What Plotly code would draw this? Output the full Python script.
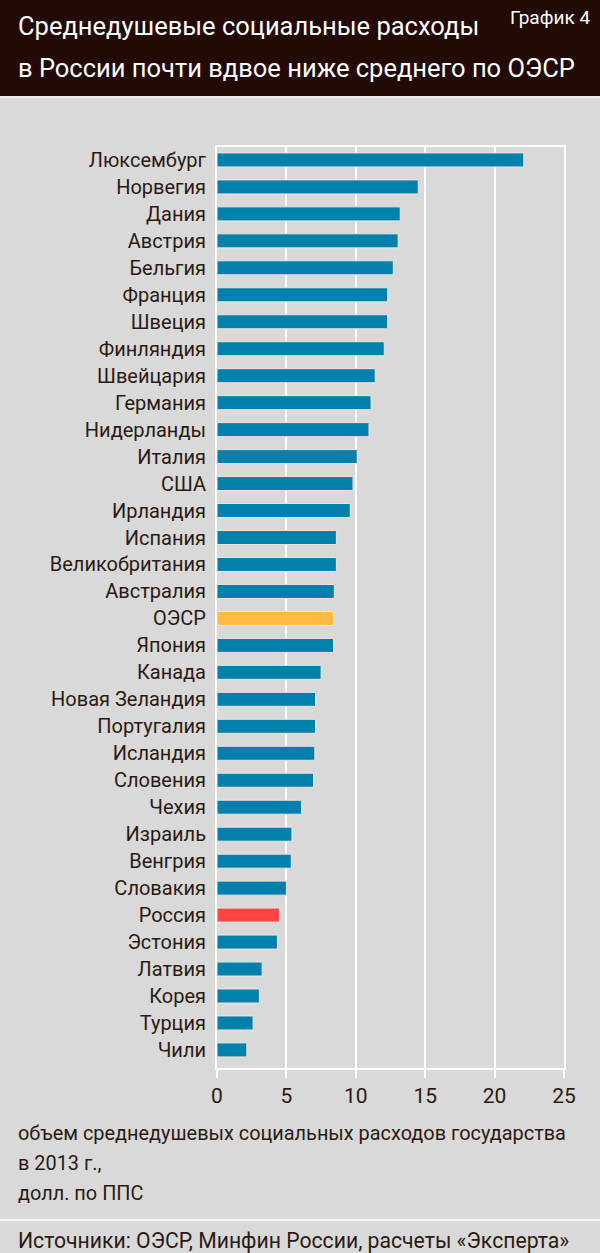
import plotly.graph_objects as go

countries = ["Люксембург", "Норвегия", "Дания", "Австрия", "Бельгия", "Франция", "Швеция",
             "Финляндия", "Швейцария", "Германия", "Нидерланды", "Италия", "США", "Ирландия",
             "Испания", "Великобритания", "Австралия", "ОЭСР", "Япония", "Канада",
             "Новая Зеландия", "Португалия", "Исландия", "Словения", "Чехия", "Израиль",
             "Венгрия", "Словакия", "Россия", "Эстония", "Латвия", "Корея", "Турция", "Чили"]
values = [22.1, 14.5, 13.2, 13.05, 12.7, 12.3, 12.3,
          12.05, 11.4, 11.1, 10.95, 10.1, 9.8, 9.6,
          8.6, 8.6, 8.45, 8.4, 8.4, 7.5,
          7.1, 7.1, 7.05, 6.95, 6.1, 5.4,
          5.35, 5.0, 4.5, 4.35, 3.25, 3.05, 2.6, 2.15]
x_ticks = [0, 5, 10, 15, 20, 25]

title_lines = ["Среднедушевые социальные расходы", "в России почти вдвое ниже среднего по ОЭСР"]
chart_no = "График 4"
unit_lines = ["объем среднедушевых социальных расходов государства", "в 2013 г.,", "долл. по ППС"]
source = "Источники: ОЭСР, Минфин России, расчеты «Эксперта»"

BLUE = "#0080aa"
ORANGE = "#ffbb40"
RED = "#ff4444"
colors = [ORANGE if c == "ОЭСР" else RED if c == "Россия" else BLUE for c in countries]

W, H = 600, 1253
L, R, T, B = 217, 564, 147, 1068
FONT = "Roboto, Liberation Sans, sans-serif"
TXT = "#2b1a12"

def px(x):
    return (x - L) / (R - L)

def py(y):
    return (B - y) / (B - T)

fig = go.Figure(go.Bar(
    x=values[::-1], y=countries[::-1], orientation="h",
    marker=dict(color=colors[::-1], line=dict(color="#f3e2da", width=1)),
    width=0.52, hoverinfo="x+y",
))

shapes = [
    dict(type="rect", xref="paper", yref="paper", x0=px(0), x1=px(W), y0=py(96), y1=py(0),
         fillcolor="#230a05", line=dict(width=0), layer="below"),
    dict(type="line", xref="paper", yref="paper", x0=px(0), x1=px(W), y0=py(97), y1=py(97),
         line=dict(color="#f2f2f2", width=1.5)),
    dict(type="line", xref="paper", yref="paper", x0=px(0), x1=px(W), y0=py(1220), y1=py(1220),
         line=dict(color="#f5f5f5", width=2)),
]

annotations = []
for text, yy in zip(title_lines, [26, 68]):
    annotations.append(dict(text=text, xref="paper", yref="paper", x=px(16), y=py(yy),
                            xanchor="left", yanchor="middle", showarrow=False,
                            font=dict(family=FONT, size=25.5, color="#ffffff")))
annotations.append(dict(text=chart_no, xref="paper", yref="paper", x=px(592), y=py(18),
                        xanchor="right", yanchor="middle", showarrow=False,
                        font=dict(family=FONT, size=19, color="#ffffff")))
for text, yy in zip(unit_lines, [1133, 1163, 1193]):
    annotations.append(dict(text=text, xref="paper", yref="paper", x=px(16), y=py(yy),
                            xanchor="left", yanchor="middle", showarrow=False,
                            font=dict(family=FONT, size=19.9, color=TXT)))
annotations.append(dict(text=source, xref="paper", yref="paper", x=px(16), y=py(1240),
                        xanchor="left", yanchor="middle", showarrow=False,
                        font=dict(family=FONT, size=21.2, color=TXT)))

fig.update_layout(
    width=W, height=H,
    margin=dict(l=L, r=W - R, t=T, b=H - B, pad=0),
    paper_bgcolor="#d9d9d9", plot_bgcolor="#d9d9d9",
    showlegend=False, bargap=0.48,
    shapes=shapes, annotations=annotations,
    font=dict(family=FONT, color=TXT),
    xaxis=dict(range=[0, 25], tickvals=x_ticks, ticktext=[str(v) for v in x_ticks],
               showgrid=True, gridcolor="#ffffff", gridwidth=2, zeroline=False,
               showline=True, linecolor="#ffffff", linewidth=2, mirror=True,
               ticks="outside", ticklen=8, tickwidth=2, tickcolor="#ffffff",
               tickfont=dict(family=FONT, size=21, color=TXT), fixedrange=True),
    yaxis=dict(type="category", categoryorder="array", categoryarray=countries[::-1],
               range=[-0.67, 33.48], showgrid=False, zeroline=False,
               showline=True, linecolor="#ffffff", linewidth=2, mirror=True,
               ticks="", ticklabelstandoff=5,
               tickfont=dict(family=FONT, size=20, color=TXT), fixedrange=True),
)

fig.write_html("out.html", config={"displayModeBar": False},
               post_script="document.body.style.margin='0';document.body.style.background='#d9d9d9';")
